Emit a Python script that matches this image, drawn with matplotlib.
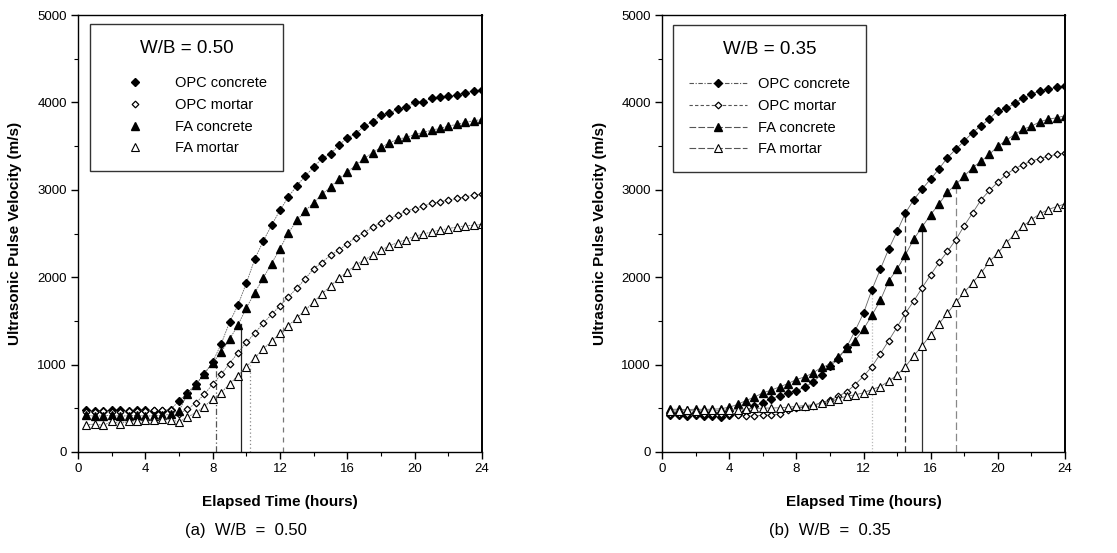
import matplotlib
matplotlib.use("Agg")
import matplotlib.pyplot as plt
from matplotlib.lines import Line2D
from matplotlib.ticker import MultipleLocator

plt.rcParams["font.family"] = ["Liberation Sans", "DejaVu Sans"]

# -------------------------
# data (0.5 h readings)
# -------------------------
hours = [0.5, 1.0, 1.5, 2.0, 2.5, 3.0, 3.5, 4.0, 4.5, 5.0, 5.5, 6.0,
         6.5, 7.0, 7.5, 8.0, 8.5, 9.0, 9.5, 10.0, 10.5, 11.0, 11.5, 12.0,
         12.5, 13.0, 13.5, 14.0, 14.5, 15.0, 15.5, 16.0, 16.5, 17.0, 17.5, 18.0,
         18.5, 19.0, 19.5, 20.0, 20.5, 21.0, 21.5, 22.0, 22.5, 23.0, 23.5, 24.0]

series_names = ["OPC concrete", "OPC mortar", "FA concrete", "FA mortar"]

# W/B = 0.50
opc_con_50 = [480, 470, 470, 475, 480, 470, 475, 480, 470, 470, 485, 585,
              680, 775, 895, 1030, 1234, 1483, 1680, 1932, 2206, 2412, 2595, 2767,
              2920, 3046, 3160, 3256, 3363, 3408, 3511, 3595, 3641, 3729, 3779, 3851,
              3878, 3924, 3947, 4000, 4008, 4046, 4057, 4069, 4084, 4111, 4130, 4145]
opc_mor_50 = [460, 460, 465, 460, 460, 465, 470, 470, 475, 480, 480, 440,
              490, 560, 660, 775, 887, 1011, 1136, 1253, 1358, 1472, 1574, 1672,
              1774, 1875, 1981, 2099, 2168, 2252, 2309, 2385, 2454, 2508, 2576, 2622,
              2672, 2710, 2756, 2786, 2813, 2844, 2863, 2882, 2901, 2920, 2939, 2954]
fa_con_50 = [420, 410, 415, 420, 410, 415, 420, 410, 415, 420, 430, 470,
             660, 770, 895, 1020, 1140, 1290, 1450, 1650, 1820, 1990, 2156, 2328,
             2508, 2649, 2760, 2851, 2950, 3031, 3122, 3202, 3282, 3359, 3424, 3485,
             3538, 3580, 3599, 3634, 3656, 3683, 3702, 3729, 3748, 3771, 3790, 3805]
fa_mor_50 = [310, 320, 305, 350, 325, 350, 360, 365, 365, 380, 370, 345,
             400, 450, 520, 605, 680, 775, 875, 975, 1075, 1180, 1265, 1358,
             1445, 1536, 1623, 1717, 1811, 1898, 1989, 2060, 2141, 2195, 2252, 2309,
             2359, 2397, 2431, 2469, 2492, 2519, 2538, 2557, 2573, 2588, 2595, 2603]

# W/B = 0.35
opc_con_35 = [423, 420, 410, 420, 410, 408, 400, 420, 432, 468, 525, 563,
              608, 646, 677, 703, 741, 802, 886, 981, 1065, 1202, 1388, 1589,
              1856, 2090, 2322, 2525, 2736, 2889, 3011, 3123, 3241, 3368, 3464, 3559,
              3655, 3732, 3812, 3904, 3931, 3989, 4050, 4092, 4134, 4153, 4172, 4188]
opc_mor_35 = [440, 440, 435, 440, 435, 440, 430, 430, 425, 411, 410, 422,
              420, 437, 479, 502, 517, 532, 563, 593, 639, 688, 772, 867,
              977, 1122, 1274, 1430, 1589, 1730, 1882, 2027, 2169, 2295, 2429, 2590,
              2736, 2885, 2992, 3088, 3176, 3241, 3287, 3330, 3356, 3383, 3406, 3421]
fa_con_35 = [488, 490, 485, 490, 488, 490, 495, 512, 544, 589, 627, 677,
             707, 745, 783, 829, 859, 905, 970, 1000, 1087, 1190, 1274, 1407,
             1563, 1734, 1958, 2092, 2257, 2437, 2579, 2716, 2839, 2973, 3061, 3157,
             3253, 3326, 3406, 3498, 3567, 3632, 3693, 3728, 3778, 3808, 3824, 3847]
fa_mor_35 = [470, 470, 475, 470, 475, 480, 475, 480, 485, 494, 498, 502,
             503, 506, 513, 521, 532, 540, 559, 578, 608, 639, 654, 677,
             715, 749, 810, 882, 977, 1103, 1217, 1342, 1468, 1589, 1711, 1825,
             1939, 2046, 2180, 2276, 2391, 2494, 2582, 2659, 2724, 2774, 2808, 2839]

# setting-time markers (time, top value)
marks_50_t = [8.2, 9.7, 10.2, 12.2]
marks_50_v = [1000, 1460, 1000, 2260]
marks_35_t = [12.5, 14.5, 15.5, 17.5]
marks_35_v = [1856, 2736, 2579, 3061]

# -------------------------
# styles
# -------------------------
MARKERS = [
    dict(marker="D", ms=4.3, mfc="black", mec="black"),
    dict(marker="D", ms=3.4, mfc="white", mec="black", mew=0.9),
    dict(marker="^", ms=6.3, mfc="black", mec="black"),
    dict(marker="^", ms=6.3, mfc="white", mec="black", mew=0.8),
]
LEG_LS_35 = [(0, (4, 1.5, 1, 1.5)), (0, (3, 2)), (0, (6, 2)), (0, (6, 2))]
MARK_STYLES_50 = [("#555555", (0, (5, 2, 1, 2))), ("#222222", "-"),
                  ("#888888", (0, (1, 2))), ("#777777", (0, (4, 4)))]
MARK_STYLES_35 = [("#bbbbbb", (0, (1, 1.5))), ("#333333", (0, (5, 3))),
                  ("#333333", "-"), ("#888888", (0, (6, 3)))]


def style_axes(ax):
    ax.set_xlim(0, 24)
    ax.set_ylim(0, 5000)
    ax.xaxis.set_major_locator(MultipleLocator(4))
    ax.xaxis.set_minor_locator(MultipleLocator(2))
    ax.yaxis.set_major_locator(MultipleLocator(1000))
    ax.yaxis.set_minor_locator(MultipleLocator(500))
    ax.tick_params(which="major", direction="out", length=5, width=1.0,
                   labelsize=9.5, pad=3)
    ax.tick_params(which="minor", direction="out", length=3, width=0.8)
    for sp in ax.spines.values():
        sp.set_linewidth(1.0)
    ax.spines["right"].set_linewidth(1.4)
    ax.set_xlabel("Elapsed Time (hours)", fontsize=11, fontweight="bold")
    ax.set_ylabel("Ultrasonic Pulse Velocity (m/s)", fontsize=11, fontweight="bold")


def draw_panel(ax, data, marks_t, marks_v, mark_styles, line_style):
    for (mt, mv), (col, ls) in zip(zip(marks_t, marks_v), mark_styles):
        ax.plot([mt, mt], [0, mv], color=col, lw=0.9, ls=ls, zorder=1)
    for ys, mk in zip(data, MARKERS):
        ax.plot(hours, ys, color="#666666", lw=0.6, ls=line_style, zorder=2, **mk)


fig = plt.figure(figsize=(11.17, 5.53), dpi=100)
ax1 = fig.add_axes([78 / 1117, 101 / 553, 404 / 1117, 437 / 553])
ax2 = fig.add_axes([662 / 1117, 101 / 553, 403 / 1117, 437 / 553])

draw_panel(ax1, [opc_con_50, opc_mor_50, fa_con_50, fa_mor_50],
           marks_50_t, marks_50_v, MARK_STYLES_50, (0, (2, 1)))
draw_panel(ax2, [opc_con_35, opc_mor_35, fa_con_35, fa_mor_35],
           marks_35_t, marks_35_v, MARK_STYLES_35, "-")

for ax in (ax1, ax2):
    style_axes(ax)
ax1.xaxis.set_label_coords(0.5, -0.098)
ax2.xaxis.set_label_coords(0.5, -0.098)
ax1.yaxis.set_label_coords(-0.139, 0.5)
ax2.yaxis.set_label_coords(-0.136, 0.5)

# legends
h50 = [Line2D([], [], ls="none", **mk) for mk in MARKERS]
h35 = [Line2D([], [], color="#555555", lw=0.8, ls=ls, **mk) for mk, ls in zip(MARKERS, LEG_LS_35)]
leg_kw = dict(loc="upper left", borderaxespad=0, frameon=True, fancybox=False,
              fontsize=10.5, title_fontsize=13.5, labelspacing=0.52, borderpad=1.1,
              handletextpad=0.75, handlelength=4.0, edgecolor="black")
leg1 = ax1.legend(h50, series_names, title="W/B = 0.50",
                  bbox_to_anchor=(12 / 404, 1 - 9 / 437), **leg_kw)
leg2 = ax2.legend(h35, series_names, title="W/B = 0.35",
                  bbox_to_anchor=(11 / 403, 1 - 10 / 437), **leg_kw)
for leg in (leg1, leg2):
    leg.get_frame().set_linewidth(1.0)
    leg._legend_box.sep = 14

fig.text(246 / 1117, 1 - 530 / 553, "(a)  W/B  =  0.50", fontsize=12, ha="center", va="center")
fig.text(830 / 1117, 1 - 530 / 553, "(b)  W/B  =  0.35", fontsize=12, ha="center", va="center")

fig.savefig("out.png", dpi=100)
